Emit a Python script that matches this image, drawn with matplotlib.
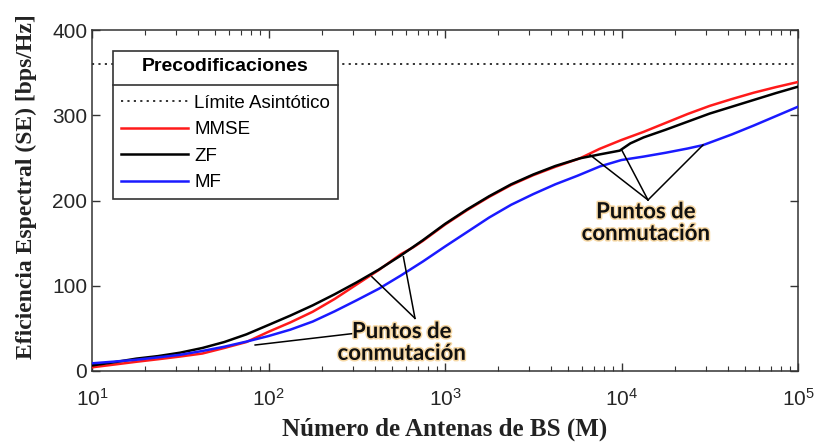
import matplotlib
matplotlib.use("Agg")
import matplotlib.pyplot as plt
import matplotlib.patheffects as pe
from matplotlib.lines import Line2D

# ---------------- data ----------------
asymptote = 360

M_mmse = [10, 13.3, 17.8, 23.7, 31.6, 42.2, 56.2, 75, 100, 133, 178, 237, 316, 422,
          562, 660, 750, 1000, 1334, 1778, 2371, 3162, 4217, 5821, 7499, 10000,
          13335, 17783, 23714, 31623, 42170, 56234, 74989, 100000]
se_mmse = [4.3, 7.5, 10.8, 13.8, 17, 20.5, 27, 34, 46, 57, 69.5, 84.5, 101.5, 118.5,
           137, 145, 152.7, 171.7, 188.7, 204.2, 218.2, 229.7, 239.5, 249.5, 260.5, 271,
           280.5, 291, 301.5, 311, 319, 326.5, 333, 339]

M_zf = [10, 13.3, 17.8, 23.7, 31.6, 42.2, 56.2, 75, 100, 133, 178, 237, 316, 422,
        562, 750, 1000, 1334, 1778, 2371, 3162, 4217, 5821, 7499, 9772, 11220,
        13335, 17783, 23714, 31623, 42170, 56234, 74989, 100000]
se_zf = [6.5, 10.2, 14.5, 17.5, 21.5, 27, 34, 43, 54, 65, 77, 90, 104, 119,
         135.5, 153.5, 172.5, 189.5, 205, 219, 230.5, 240.5, 249.5, 254, 258.5, 267,
         274, 283, 292.5, 302, 310, 318, 326, 333.5]

M_mf = [10, 13.3, 17.8, 23.7, 31.6, 42.2, 56.2, 75, 100, 133, 178, 237, 316, 422,
        562, 750, 1000, 1334, 1778, 2371, 3162, 4217, 5623, 7550, 10000, 13335,
        17783, 23714, 29000, 42170, 56234, 74989, 100000]
se_mf = [9, 11, 13.2, 16, 19, 23.5, 28.5, 34.5, 41, 48.5, 58, 70, 83, 96.5,
         112, 128.5, 146, 163, 180, 195, 207.5, 219, 229, 240, 247.5, 251.5,
         256, 261, 265, 277.5, 288, 299, 310]

labels = ["Límite Asintótico", "MMSE", "ZF", "MF"]
legend_title = "Precodificaciones"
xlabel = "Número de Antenas de BS (M)"
ylabel = "Eficiencia Espectral (SE) [bps/Hz]"
note = "Puntos de\nconmutación"

# switching-point annotations (data coords)
left_tips = [(385, 110.6), (581, 134)]
left_join = (676, 61.8)
left_extra = [(84, 30.5), (309, 44.2)]
left_text = (570, 33.5)
right_tips = [(6640, 253.4), (10030, 259.2), (28970, 265.1)]
right_join = (14130, 200.6)
right_text = (13770, 174)

# ---------------- figure ----------------
plt.rcParams['font.family'] = ['Liberation Sans', 'DejaVu Sans']
plt.rcParams['mathtext.default'] = 'regular'

fig = plt.figure(figsize=(8.17, 4.46), dpi=100)
ax = fig.add_axes([92/817, 75/446, 706/817, 341/446])

axis_col = '#333333'
ax.plot([10, 1e5], [asymptote, asymptote], color='#333333', lw=1.4,
        linestyle=(0, (1.1, 2.2)), label=labels[0], zorder=2)
ax.plot(M_mmse, se_mmse, color='#ff1a1a', lw=1.8, label=labels[1], zorder=3)
ax.plot(M_zf, se_zf, color='black', lw=1.8, label=labels[2], zorder=4)
ax.plot(M_mf, se_mf, color='#1a1aff', lw=1.8, label=labels[3], zorder=5)

ax.set_xscale('log')
ax.set_xlim(10, 1e5)
ax.set_ylim(0, 400)
ax.set_yticks([0, 100, 200, 300, 400])

ax.tick_params(axis='both', which='both', direction='in', top=True, right=True,
               colors=axis_col, labelsize=15, labelcolor='#262626')
ax.tick_params(which='major', length=6, width=1)
ax.tick_params(which='minor', length=3.5, width=0.8)
ax.tick_params(axis='x', pad=12)
for s in ax.spines.values():
    s.set_color(axis_col)
    s.set_linewidth(1.1)

ax.set_xlabel(xlabel, fontfamily='Liberation Serif', fontweight='bold',
              fontsize=18, color='#222222', va='center')
ax.set_ylabel(ylabel, fontfamily='Liberation Serif', fontweight='bold',
              fontsize=17, color='#222222', va='center')
ax.yaxis.set_label_coords(-0.093, 0.54)
ax.xaxis.set_label_coords(0.5, -0.17)

leg = ax.legend(loc='upper left', bbox_to_anchor=(21/706, (341-20.5)/341),
                title=legend_title, fontsize=13.5, frameon=True, fancybox=False,
                framealpha=1, edgecolor=axis_col, handlelength=3.6,
                handletextpad=0.3, labelspacing=0.5, borderpad=0.42,
                borderaxespad=0)
leg.get_title().set_fontweight('bold')
leg.get_title().set_fontsize(14)
leg.get_frame().set_linewidth(1.2)
leg.set_zorder(10)
leg._legend_box.sep = 14

# annotation lines and text
for tip in left_tips:
    ax.plot([tip[0], left_join[0]], [tip[1], left_join[1]], color='black', lw=1.1, zorder=6)
ax.plot([left_extra[0][0], left_extra[1][0]], [left_extra[0][1], left_extra[1][1]],
        color='black', lw=1.1, zorder=6)
for tip in right_tips:
    ax.plot([tip[0], right_join[0]], [tip[1], right_join[1]], color='black', lw=1.1, zorder=6)

for pos in (left_text, right_text):
    ax.text(pos[0], pos[1], note, ha='center', va='center', fontsize=16,
            fontfamily='Lato', fontweight='bold', color='#101010', linespacing=1.05,
            path_effects=[pe.withStroke(linewidth=2.2, foreground='#f7d9a6')], zorder=7)

# separator under legend title
fig.canvas.draw()
r = fig.canvas.get_renderer()
fb = leg.get_frame().get_window_extent(r)
tb = leg.get_title().get_window_extent(r)
hb = leg._legend_handle_box.get_window_extent(r)
ysep = (tb.y0 + hb.y1) / 2
inv = fig.transFigure.inverted()
p0 = inv.transform((fb.x0, ysep))
p1 = inv.transform((fb.x1, ysep))
sep = Line2D([p0[0], p1[0]], [p0[1], p1[1]], transform=fig.transFigure,
             color=axis_col, lw=1.2, zorder=20)
fig.add_artist(sep)

fig.savefig('out.png', dpi=100)
